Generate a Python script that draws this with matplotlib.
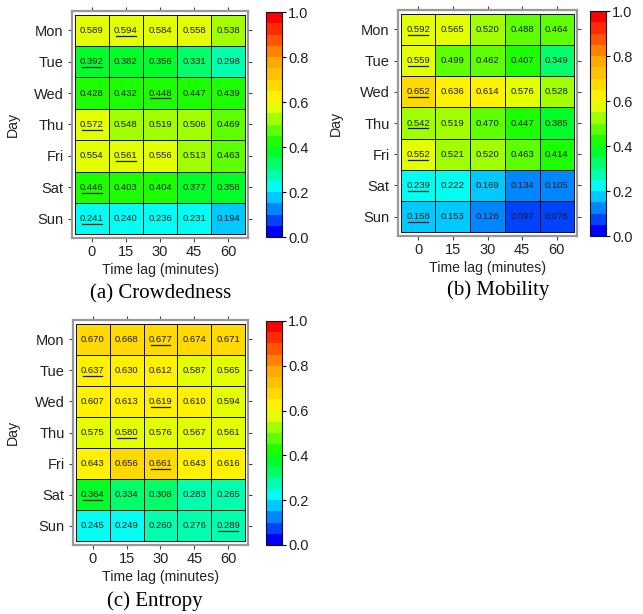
import numpy as np
import matplotlib
matplotlib.use('Agg')
import matplotlib.pyplot as plt
from matplotlib.colors import LinearSegmentedColormap

days = ['Mon', 'Tue', 'Wed', 'Thu', 'Fri', 'Sat', 'Sun']
lags = ['0', '15', '30', '45', '60']

crowdedness = [
	[0.589, 0.594, 0.584, 0.558, 0.538],
	[0.392, 0.382, 0.356, 0.331, 0.298],
	[0.428, 0.432, 0.448, 0.447, 0.439],
	[0.572, 0.548, 0.519, 0.506, 0.469],
	[0.554, 0.561, 0.556, 0.513, 0.463],
	[0.446, 0.403, 0.404, 0.377, 0.358],
	[0.241, 0.240, 0.236, 0.231, 0.194],
]
mobility = [
	[0.592, 0.565, 0.520, 0.488, 0.464],
	[0.559, 0.499, 0.462, 0.407, 0.349],
	[0.652, 0.636, 0.614, 0.576, 0.528],
	[0.542, 0.519, 0.470, 0.447, 0.385],
	[0.552, 0.521, 0.520, 0.463, 0.414],
	[0.239, 0.222, 0.169, 0.134, 0.105],
	[0.158, 0.153, 0.126, 0.097, 0.078],
]
entropy = [
	[0.670, 0.668, 0.677, 0.674, 0.671],
	[0.637, 0.630, 0.612, 0.587, 0.565],
	[0.607, 0.613, 0.619, 0.610, 0.594],
	[0.575, 0.580, 0.576, 0.567, 0.561],
	[0.643, 0.656, 0.661, 0.643, 0.616],
	[0.364, 0.334, 0.308, 0.283, 0.265],
	[0.245, 0.249, 0.260, 0.276, 0.289],
]

SANS = 'Liberation Sans'
SERIF = 'Liberation Serif'

cmap = LinearSegmentedColormap.from_list(
	'bcgyor', ['#0000ff', '#00ffff', '#00ff00', '#ffff00', '#ffa500', '#ff0000'], N=20)


def drawPanel(fig, rect, cbarRect, data, caption, capXY, ylabelX):
	data = np.array(data)
	nr, nc = data.shape
	ax = fig.add_axes(rect)
	im = ax.pcolormesh(np.arange(nc + 1) - 0.5, np.arange(nr + 1) - 0.5, data,
		cmap=cmap, vmin=0, vmax=1, edgecolors='#111111', linewidth=0.6)
	ax.set_xlim(-0.58, nc - 0.42)
	ax.set_ylim(nr - 0.38, -0.62)
	# row maximum gets underlined
	best = data.argmax(axis=1)
	for i in range(nr):
		for j in range(nc):
			ax.text(j, i, f'{data[i, j]:.3f}', ha='center', va='center',
				fontsize=6.8, family=SANS, color='#1a1a1a')
		ax.plot([best[i] - 0.29, best[i] + 0.29], [i + 0.17, i + 0.17],
			color='#1a1a1a', lw=0.9)
	ax.set_xticks(range(nc))
	ax.set_xticklabels(lags)
	ax.set_yticks(range(nr))
	ax.set_yticklabels(days)
	ax.tick_params(axis='both', which='both', direction='out', length=3,
		width=0.8, color='#444444', labelsize=10.5, labelcolor='#222222',
		top=True, right=True, labeltop=False, labelright=False)
	ax.tick_params(axis='x', pad=2)
	ax.tick_params(axis='y', pad=3)
	for lab in ax.get_xticklabels() + ax.get_yticklabels():
		lab.set_family(SANS)
	for sp in ax.spines.values():
		sp.set_color('#999999')
		sp.set_linewidth(1.6)
	ax.set_xlabel('Time lag (minutes)', fontsize=10.2, family=SANS, color='#222222')
	ax.xaxis.set_label_coords(0.5, -0.112)
	ax.set_ylabel('Day', fontsize=10.2, family=SANS, color='#222222')
	ax.yaxis.set_label_coords(ylabelX, 0.5)

	cax = fig.add_axes(cbarRect)
	cb = fig.colorbar(im, cax=cax)
	cb.set_ticks([0.0, 0.2, 0.4, 0.6, 0.8, 1.0])
	cb.set_ticklabels(['0.0', '0.2', '0.4', '0.6', '0.8', '1.0'])
	cb.outline.set_color('#111111')
	cb.outline.set_linewidth(0.8)
	cax.tick_params(length=3, width=0.8, labelsize=10.5, pad=1.5, labelcolor='#222222')
	for lab in cax.get_yticklabels():
		lab.set_family(SANS)

	fig.text(capXY[0], capXY[1], caption, ha='center', va='center',
		fontsize=15, family=SERIF)


fig = plt.figure(figsize=(6.43, 6.14), dpi=100)

drawPanel(fig, [0.1120, 0.6124, 0.2737, 0.3697], [0.4137, 0.6140, 0.0249, 0.3664],
	crowdedness, '(a) Crowdedness', (0.2504, 0.5212), -0.295)
drawPanel(fig, [0.6190, 0.6156, 0.2784, 0.3681], [0.9176, 0.6156, 0.0249, 0.3664],
	mobility, '(b) Mobility', (0.7745, 0.5277), -0.307)
drawPanel(fig, [0.1135, 0.1124, 0.2722, 0.3664], [0.4137, 0.1124, 0.0249, 0.3648],
	entropy, '(c) Entropy', (0.2410, 0.0212), -0.303)

plt.savefig('out.png', dpi=100)
